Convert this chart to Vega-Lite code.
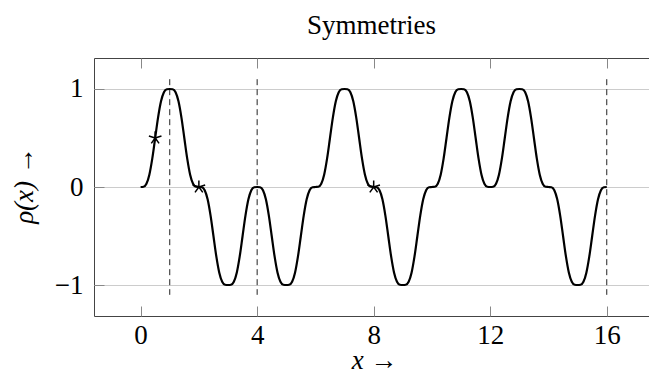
{
  "$schema": "https://vega.github.io/schema/vega-lite/v6.json",
  "width": 555,
  "height": 258,
  "autosize": {"type": "none"},
  "padding": {"left": 94, "top": 58, "right": 0, "bottom": 58},
  "background": "white",
  "title": {"text": "Symmetries", "font": "Liberation Serif", "fontSize": 27, "fontWeight": "normal", "color": "black", "baseline": "alphabetic", "offset": -3},
  "config": {
    "view": {"stroke": "#444444", "strokeWidth": 1},
    "axis": {"labelFont": "Liberation Serif", "labelFontSize": 27, "labelColor": "black", "titleFont": "Liberation Serif", "titleFontSize": 27, "titleFontWeight": "normal", "titleColor": "black", "tickColor": "#888888", "domain": false}
  },
  "datasets": {
    "curve": [
      {"x":0,"y":0},{"x":0.1,"y":0.0027},{"x":0.2,"y":0.0333},{"x":0.3,"y":0.126},{"x":0.4,"y":0.2898},{"x":0.5,"y":0.5},{"x":0.6,"y":0.7102},{"x":0.7,"y":0.874},{"x":0.8,"y":0.9667},{"x":0.9,"y":0.9973},
      {"x":1,"y":1},{"x":1.1,"y":0.9973},{"x":1.2,"y":0.9667},{"x":1.3,"y":0.874},{"x":1.4,"y":0.7102},{"x":1.5,"y":0.5},{"x":1.6,"y":0.2898},{"x":1.7,"y":0.126},{"x":1.8,"y":0.0333},{"x":1.9,"y":0.0027},
      {"x":2,"y":0},{"x":2.1,"y":-0.0027},{"x":2.2,"y":-0.0333},{"x":2.3,"y":-0.126},{"x":2.4,"y":-0.2898},{"x":2.5,"y":-0.5},{"x":2.6,"y":-0.7102},{"x":2.7,"y":-0.874},{"x":2.8,"y":-0.9667},{"x":2.9,"y":-0.9973},
      {"x":3,"y":-1},{"x":3.1,"y":-0.9973},{"x":3.2,"y":-0.9667},{"x":3.3,"y":-0.874},{"x":3.4,"y":-0.7102},{"x":3.5,"y":-0.5},{"x":3.6,"y":-0.2898},{"x":3.7,"y":-0.126},{"x":3.8,"y":-0.0333},{"x":3.9,"y":-0.0027},
      {"x":4,"y":0},{"x":4.1,"y":-0.0027},{"x":4.2,"y":-0.0333},{"x":4.3,"y":-0.126},{"x":4.4,"y":-0.2898},{"x":4.5,"y":-0.5},{"x":4.6,"y":-0.7102},{"x":4.7,"y":-0.874},{"x":4.8,"y":-0.9667},{"x":4.9,"y":-0.9973},
      {"x":5,"y":-1},{"x":5.1,"y":-0.9973},{"x":5.2,"y":-0.9667},{"x":5.3,"y":-0.874},{"x":5.4,"y":-0.7102},{"x":5.5,"y":-0.5},{"x":5.6,"y":-0.2898},{"x":5.7,"y":-0.126},{"x":5.8,"y":-0.0333},{"x":5.9,"y":-0.0027},
      {"x":6,"y":0},{"x":6.1,"y":0.0027},{"x":6.2,"y":0.0333},{"x":6.3,"y":0.126},{"x":6.4,"y":0.2898},{"x":6.5,"y":0.5},{"x":6.6,"y":0.7102},{"x":6.7,"y":0.874},{"x":6.8,"y":0.9667},{"x":6.9,"y":0.9973},
      {"x":7,"y":1},{"x":7.1,"y":0.9973},{"x":7.2,"y":0.9667},{"x":7.3,"y":0.874},{"x":7.4,"y":0.7102},{"x":7.5,"y":0.5},{"x":7.6,"y":0.2898},{"x":7.7,"y":0.126},{"x":7.8,"y":0.0333},{"x":7.9,"y":0.0027},
      {"x":8,"y":0},{"x":8.1,"y":-0.0027},{"x":8.2,"y":-0.0333},{"x":8.3,"y":-0.126},{"x":8.4,"y":-0.2898},{"x":8.5,"y":-0.5},{"x":8.6,"y":-0.7102},{"x":8.7,"y":-0.874},{"x":8.8,"y":-0.9667},{"x":8.9,"y":-0.9973},
      {"x":9,"y":-1},{"x":9.1,"y":-0.9973},{"x":9.2,"y":-0.9667},{"x":9.3,"y":-0.874},{"x":9.4,"y":-0.7102},{"x":9.5,"y":-0.5},{"x":9.6,"y":-0.2898},{"x":9.7,"y":-0.126},{"x":9.8,"y":-0.0333},{"x":9.9,"y":-0.0027},
      {"x":10,"y":0},{"x":10.1,"y":0.0027},{"x":10.2,"y":0.0333},{"x":10.3,"y":0.126},{"x":10.4,"y":0.2898},{"x":10.5,"y":0.5},{"x":10.6,"y":0.7102},{"x":10.7,"y":0.874},{"x":10.8,"y":0.9667},{"x":10.9,"y":0.9973},
      {"x":11,"y":1},{"x":11.1,"y":0.9973},{"x":11.2,"y":0.9667},{"x":11.3,"y":0.874},{"x":11.4,"y":0.7102},{"x":11.5,"y":0.5},{"x":11.6,"y":0.2898},{"x":11.7,"y":0.126},{"x":11.8,"y":0.0333},{"x":11.9,"y":0.0027},
      {"x":12,"y":0},{"x":12.1,"y":0.0027},{"x":12.2,"y":0.0333},{"x":12.3,"y":0.126},{"x":12.4,"y":0.2898},{"x":12.5,"y":0.5},{"x":12.6,"y":0.7102},{"x":12.7,"y":0.874},{"x":12.8,"y":0.9667},{"x":12.9,"y":0.9973},
      {"x":13,"y":1},{"x":13.1,"y":0.9973},{"x":13.2,"y":0.9667},{"x":13.3,"y":0.874},{"x":13.4,"y":0.7102},{"x":13.5,"y":0.5},{"x":13.6,"y":0.2898},{"x":13.7,"y":0.126},{"x":13.8,"y":0.0333},{"x":13.9,"y":0.0027},
      {"x":14,"y":0},{"x":14.1,"y":-0.0027},{"x":14.2,"y":-0.0333},{"x":14.3,"y":-0.126},{"x":14.4,"y":-0.2898},{"x":14.5,"y":-0.5},{"x":14.6,"y":-0.7102},{"x":14.7,"y":-0.874},{"x":14.8,"y":-0.9667},{"x":14.9,"y":-0.9973},
      {"x":15,"y":-1},{"x":15.1,"y":-0.9973},{"x":15.2,"y":-0.9667},{"x":15.3,"y":-0.874},{"x":15.4,"y":-0.7102},{"x":15.5,"y":-0.5},{"x":15.6,"y":-0.2898},{"x":15.7,"y":-0.126},{"x":15.8,"y":-0.0333},{"x":15.9,"y":-0.0027},
      {"x":16,"y":0}
    ],
    "vlines": [{"x": 1, "top": 1.1, "bottom": -1.1}, {"x": 4, "top": 1.1, "bottom": -1.1}, {"x": 16, "top": 1.1, "bottom": -1.1}],
    "stars": [{"x": 0.5, "y": 0.5}, {"x": 2, "y": 0}, {"x": 8, "y": 0}]
  },
  "resolve": {"axis": {"x": "independent"}},
  "layer": [
    {
      "data": {"name": "vlines"},
      "mark": {"type": "rule", "color": "#222222", "strokeWidth": 1, "strokeDash": [6, 4]},
      "encoding": {
        "x": {"field": "x", "type": "quantitative", "scale": {"domain": [-1.6, 17.45], "nice": false, "zero": false},
              "axis": {"orient": "top", "values": [0, 4, 8, 12, 16], "labels": false, "title": null, "grid": false, "ticks": true, "tickSize": -10}},
        "y": {"field": "top", "type": "quantitative"},
        "y2": {"field": "bottom"}
      }
    },
    {
      "data": {"name": "curve"},
      "mark": {"type": "line", "interpolate": "monotone", "color": "black", "strokeWidth": 2.2},
      "encoding": {
        "x": {"field": "x", "type": "quantitative", "scale": {"domain": [-1.6, 17.45], "nice": false, "zero": false},
              "axis": {"orient": "bottom", "values": [0, 4, 8, 12, 16], "format": "d", "grid": false, "tickSize": -10, "labelBaseline": "alphabetic", "labelPadding": 37, "title": "x →", "titleFontStyle": "italic", "titleBaseline": "alphabetic", "titleX": 280, "titleY": 52}},
        "y": {"field": "y", "type": "quantitative", "scale": {"domain": [-1.316, 1.316], "nice": false, "zero": false},
              "axis": {"values": [-1, 0, 1], "format": "d", "grid": true, "gridColor": "#cccccc", "gridWidth": 1, "tickSize": -10, "labelPadding": 21, "labelBaseline": "middle", "title": "ρ(x) →", "titleFontStyle": "italic", "titleAngle": 270, "titleAlign": "center", "titleBaseline": "middle", "titleX": -70, "titleY": 127}}
      }
    },
    {
      "data": {"name": "stars"},
      "mark": {"type": "point", "shape": "M0,0L0,-1M0,0L-0.951,-0.309M0,0L-0.588,0.809M0,0L0.588,0.809M0,0L0.951,-0.309", "filled": false, "stroke": "black", "strokeWidth": 1.5, "size": 175, "opacity": 1},
      "encoding": {
        "x": {"field": "x", "type": "quantitative", "axis": null},
        "y": {"field": "y", "type": "quantitative"}
      }
    }
  ]
}
